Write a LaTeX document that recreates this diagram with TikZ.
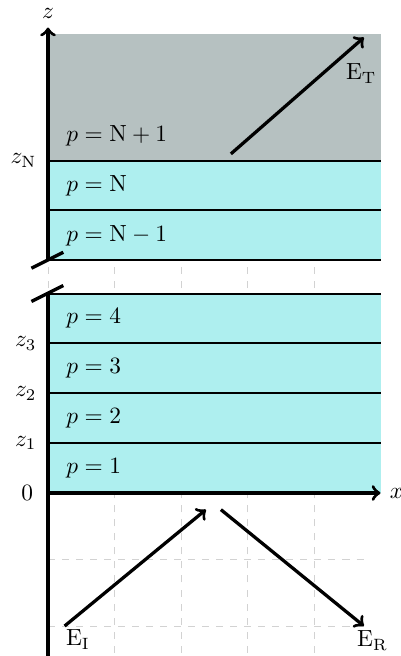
\documentclass[tikz,border=0pt]{standalone}
\usepackage{tikz}
\definecolor{layercol}{RGB}{174,239,239}
\definecolor{topcol}{RGB}{182,193,193}
\begin{document}
\begin{tikzpicture}[
  layerline/.style={line width=0.85pt},
  axisline/.style={line width=1.4pt,->},
  breakmark/.style={line width=1.4pt},
  wave/.style={line width=1.4pt,->},
  gridline/.style={gray!35,dashed,line width=0.4pt},
  plabel/.style={anchor=west,inner sep=0pt},
  zlabel/.style={anchor=east}
]
\useasboundingbox (-0.722,-2.451) rectangle (5.308,7.414);
% grid
\draw[gridline] (0,-2.4) grid (4.85,6.9);
% layers
\fill[layercol] (0,0) rectangle (5,3);
\fill[layercol] (0,3.5) rectangle (5,5);
\fill[topcol] (0,5) rectangle (5,6.9);
\foreach \y in {0.75,1.5,2.25,3,3.5,4.25,5}
  \draw[layerline] (0,\y) -- (5,\y);
% axes
\coordinate (xo) at (0,0);
\coordinate (xe) at (5,0);
\coordinate (zb) at (0,-2.5);
\coordinate (zl) at (0,3);
\coordinate (zu) at (0,3.5);
\coordinate (zt) at (0,7);
\draw[axisline] (xo) -- (xe) node[right] (xl) {$x$};
\draw[line width=1.4pt] (zb) -- (zl);
\draw[axisline] (zu) -- (zt) node[above] (zlab) {$z$};
% break marks
\coordinate (b1a) at (-0.25,2.88);
\coordinate (b1b) at (0.23,3.12);
\coordinate (b2a) at (-0.25,3.38);
\coordinate (b2b) at (0.23,3.62);
\draw[breakmark] (b1a) -- (b1b);
\draw[breakmark] (b2a) -- (b2b);
% z labels
\node[zlabel] (l0) at (-0.1,0) {$0$};
\node[zlabel] (l1) at (-0.05,0.75) {$z_1$};
\node[zlabel] (l2) at (-0.05,1.5) {$z_2$};
\node[zlabel] (l3) at (-0.05,2.25) {$z_3$};
\node[zlabel] (lN) at (-0.05,5) {$z_{\mathrm{N}}$};
% p labels
\node[plabel] (p1) at (0.27,0.375) {$p=1$};
\node[plabel] (p2) at (0.27,1.125) {$p=2$};
\node[plabel] (p3) at (0.27,1.875) {$p=3$};
\node[plabel] (p4) at (0.27,2.625) {$p=4$};
\node[plabel] (pNm) at (0.27,3.875) {$p=\mathrm{N}-1$};
\node[plabel] (pN) at (0.27,4.625) {$p=\mathrm{N}$};
\node[plabel] (pNp) at (0.27,5.375) {$p=\mathrm{N}+1$};
% waves
\coordinate (eis) at (0.25,-2);
\coordinate (eie) at (2.375,-0.25);
\coordinate (ers) at (2.6,-0.25);
\coordinate (ere) at (4.75,-2);
\coordinate (ets) at (2.75,5.1);
\coordinate (ete) at (4.75,6.85);
\draw[wave] (eis) -- (eie);
\draw[wave] (ers) -- (ere);
\draw[wave] (ets) -- (ete);
\node (EI) at (0.45,-2.2) {$\mathrm{E}_{\mathrm{I}}$};
\node (ER) at (4.88,-2.22) {$\mathrm{E}_{\mathrm{R}}$};
\node (ET) at (4.71,6.31) {$\mathrm{E}_{\mathrm{T}}$};
\end{tikzpicture}
\end{document}
